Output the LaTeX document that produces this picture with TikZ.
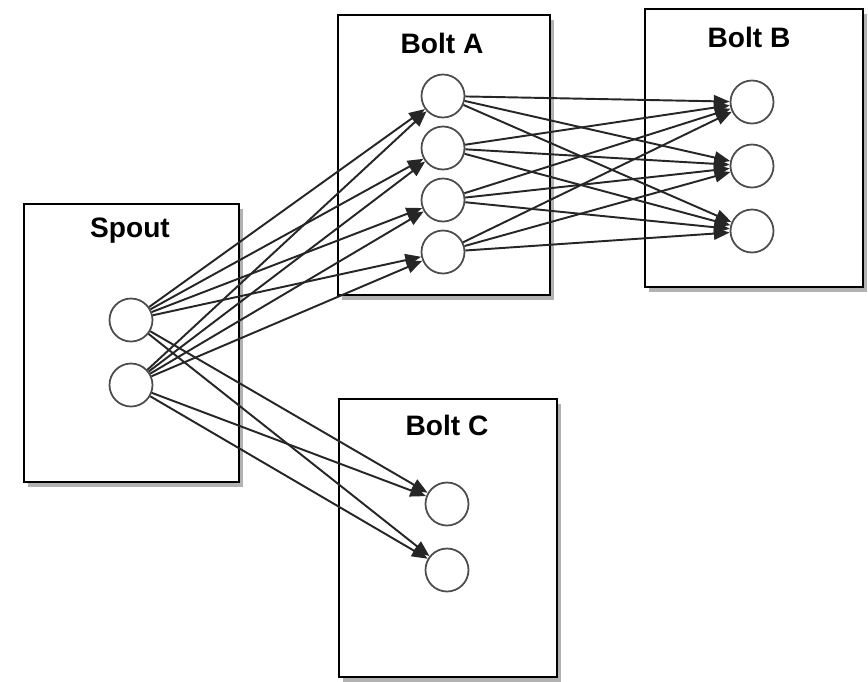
\documentclass[tikz,border=0pt]{standalone}
\usepackage{fontspec}
\setmainfont{Liberation Sans}
\usepackage{tikz}
\usetikzlibrary{shapes,shadows,arrows.meta}

\begin{document}
\begin{tikzpicture}[x=0.02cm,y=-0.02cm]
    \tikzstyle{box}=[rectangle,draw,line width=1.6pt,fill=white,
      drop shadow={shadow xshift=2.5pt,shadow yshift=-3pt,opacity=0.5,fill=black!60}]
    \tikzstyle{title}=[font=\fontsize{16}{18}\selectfont\bfseries]
    \tikzstyle{task}=[circle,draw=black!70,line width=1pt,minimum size=0.86cm,inner sep=0pt]
    \tikzstyle{flow}=[line width=1.1pt,black!85,-{Triangle[length=9pt,width=7pt]}]
    \useasboundingbox (0,0) rectangle (868,681);
    % components
    \node[box,minimum width=4.3cm,minimum height=5.56cm] (spout) at (131.5,343) {};
    \node[box,minimum width=4.24cm,minimum height=5.6cm] (boltA) at (444,155) {};
    \node[box,minimum width=4.36cm,minimum height=5.56cm] (boltB) at (754,148) {};
    \node[box,minimum width=4.36cm,minimum height=5.56cm] (boltC) at (448,538) {};
    \node[title] (spoutT) at (130,231) {Spout};
    \node[title] (boltAT) at (442,43) {Bolt A};
    \node[title] (boltBT) at (749,37) {Bolt B};
    \node[title] (boltCT) at (447,425) {Bolt C};
    % tasks
    \node[task] (s1) at (131,320) {};
    \node[task] (s2) at (131,385) {};
    \node[task] (a1) at (443,96) {};
    \node[task] (a2) at (443,148) {};
    \node[task] (a3) at (443,200) {};
    \node[task] (a4) at (443,252) {};
    \node[task] (b1) at (752,102) {};
    \node[task] (b2) at (752,166) {};
    \node[task] (b3) at (752,231) {};
    \node[task] (c1) at (447,504) {};
    \node[task] (c2) at (447,570) {};
    % spout to bolt A
    \draw[flow] (s1) -- (a1);
    \draw[flow] (s1) -- (a2);
    \draw[flow] (s1) -- (a3);
    \draw[flow] (s1) -- (a4);
    \draw[flow] (s2) -- (a1);
    \draw[flow] (s2) -- (a2);
    \draw[flow] (s2) -- (a3);
    \draw[flow] (s2) -- (a4);
    % spout to bolt C
    \draw[flow] (s1) -- (c1);
    \draw[flow] (s1) -- (c2);
    \draw[flow] (s2) -- (c1);
    \draw[flow] (s2) -- (c2);
    % bolt A to bolt B
    \draw[flow] (a1) -- (b1);
    \draw[flow] (a1) -- (b2);
    \draw[flow] (a1) -- (b3);
    \draw[flow] (a2) -- (b1);
    \draw[flow] (a2) -- (b2);
    \draw[flow] (a2) -- (b3);
    \draw[flow] (a3) -- (b1);
    \draw[flow] (a3) -- (b2);
    \draw[flow] (a3) -- (b3);
    \draw[flow] (a4) -- (b1);
    \draw[flow] (a4) -- (b2);
    \draw[flow] (a4) -- (b3);
\end{tikzpicture}
\end{document}
